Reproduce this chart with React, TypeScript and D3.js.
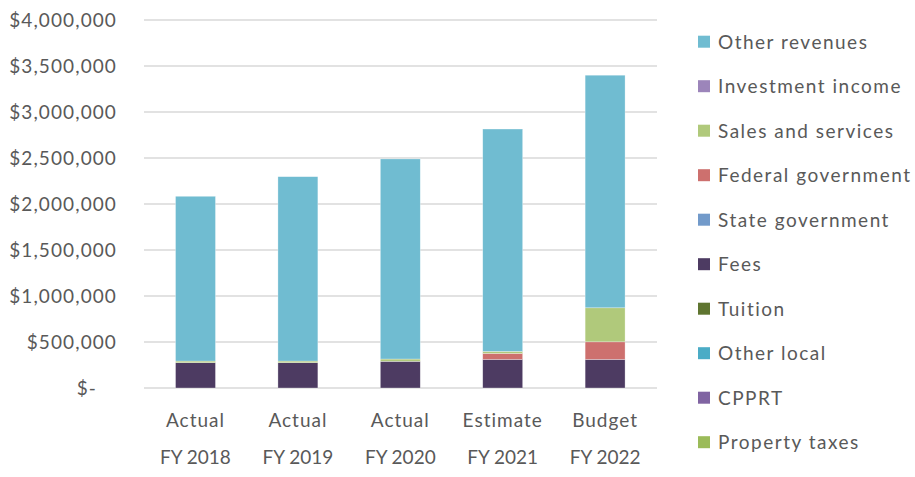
import * as d3 from "d3";

// categories (x axis, two line labels)
const kinds = ["Actual", "Actual", "Actual", "Estimate", "Budget"];
const years = ["FY 2018", "FY 2019", "FY 2020", "FY 2021", "FY 2022"];

// series, bottom of stack first
const seriesNames = [
  "Property taxes",
  "CPPRT",
  "Other local",
  "Tuition",
  "Fees",
  "State government",
  "Federal government",
  "Sales and services",
  "Investment income",
  "Other revenues",
];
const colors = [
  "#9BBB59",
  "#8064A2",
  "#4BACC6",
  "#5F7530",
  "#4D3B62",
  "#729ACA",
  "#CD706E",
  "#B0C97B",
  "#9C85BA",
  "#70BCD1",
];

const propertyTaxes = [0, 0, 0, 0, 0];
const cpprt = [0, 0, 0, 0, 0];
const otherLocal = [0, 0, 0, 0, 0];
const tuition = [0, 0, 0, 0, 0];
const fees = [275000, 275000, 290000, 311000, 311000];
const stateGov = [0, 0, 0, 0, 0];
const federalGov = [0, 0, 0, 65000, 191000];
const salesServices = [18000, 18000, 25000, 22000, 370000];
const investmentIncome = [0, 0, 0, 0, 0];
const otherRevenues = [1791000, 2004000, 2175000, 2417000, 2528000];

const yTicks = [0, 500000, 1000000, 1500000, 2000000, 2500000, 3000000, 3500000, 4000000];

const W = 915;
const H = 477;
const font = "Lato, 'Open Sans', sans-serif";
const textColor = "#595959";

export default function App() {
  const columns = [
    propertyTaxes,
    cpprt,
    otherLocal,
    tuition,
    fees,
    stateGov,
    federalGov,
    salesServices,
    investmentIncome,
    otherRevenues,
  ];
  const rows = years.map((y, i) => {
    const r: any = { year: y };
    seriesNames.forEach((s, j) => (r[s] = columns[j][i]));
    return r;
  });
  const stacked = d3.stack().keys(seriesNames)(rows);

  const x = d3
    .scaleBand()
    .domain(years)
    .range([144.3, 656.3])
    .paddingInner(0.61)
    .paddingOuter(0.305);
  const y = d3.scaleLinear().domain([0, 4000000]).range([388, 20]);

  const fmt = (v: number) => (v === 0 ? "$-" : "$" + d3.format(",")(v));

  return (
    <svg width={W} height={H} style={{ position: "absolute", left: 0, top: 0 }}>
      <rect width={W} height={H} fill="#fff" />
      {yTicks.map((t) => (
        <g key={t}>
          <line x1={144} x2={657} y1={y(t)} y2={y(t)} stroke="#D9D9D9" strokeWidth={1.5} />
          <text
            x={t === 0 ? 97 : 117}
            y={y(t)}
            dy="0.36em"
            textAnchor="end"
            fontFamily={font}
            fontSize={19}
            letterSpacing={1.1}
            fill={textColor}
          >
            {fmt(t)}
          </text>
        </g>
      ))}
      {stacked.map((s, si) => (
        <g key={s.key} fill={colors[si]}>
          {s.map((d, i) =>
            d[1] - d[0] > 0 ? (
              <rect
                key={i}
                x={x(years[i])}
                width={x.bandwidth()}
                y={y(d[1])}
                height={y(d[0]) - y(d[1])}
                stroke="#fff"
                strokeOpacity={0.5}
                strokeWidth={0.6}
              />
            ) : null
          )}
        </g>
      ))}
      {years.map((yr, i) => (
        <g key={yr} fontFamily={font} fontSize={19} fill={textColor} textAnchor="middle">
          <text x={x(yr)! + x.bandwidth() / 2} y={427} letterSpacing={1}>
            {kinds[i]}
          </text>
          <text x={x(yr)! + x.bandwidth() / 2} y={464}>
            {yr}
          </text>
        </g>
      ))}
      {seriesNames
        .slice()
        .reverse()
        .map((name, i) => {
          const ci = seriesNames.indexOf(name);
          const cy = 41.7 + i * 44.5;
          return (
            <g key={name}>
              <rect x={698} y={cy - 6} width={12} height={12} fill={colors[ci]} />
              <text
                x={718}
                y={cy}
                dy="0.36em"
                fontFamily={font}
                fontSize={19}
                letterSpacing={1.5}
                fill={textColor}
              >
                {name}
              </text>
            </g>
          );
        })}
    </svg>
  );
}
